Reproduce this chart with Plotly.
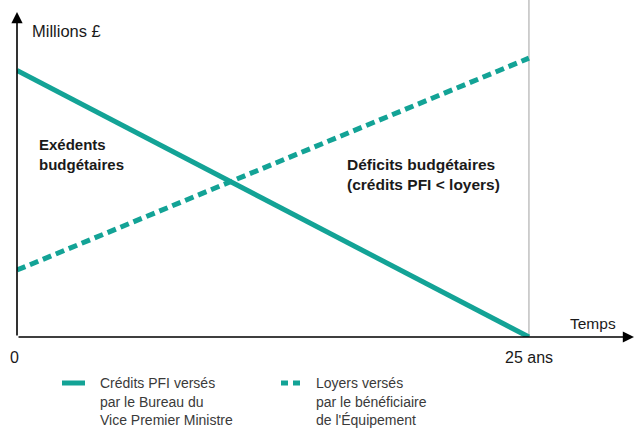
import plotly.graph_objects as go

# Data (arbitrary units)
years = [0, 25]
credits_pfi = [82, 0]      # Crédits PFI versés par le Bureau du Vice Premier Ministre
loyers = [20.6, 85.8]      # Loyers versés par le bénéficiaire de l'Équipement

TEAL = "#13a396"
FONT = "Liberation Sans"

fig = go.Figure()
fig.add_trace(go.Scatter(x=years, y=credits_pfi, mode="lines",
                         line=dict(color=TEAL, width=5), showlegend=False,
                         hoverinfo="skip"))
fig.add_trace(go.Scatter(x=years, y=loyers, mode="lines",
                         line=dict(color=TEAL, width=5, dash="9px,5px"),
                         showlegend=False, hoverinfo="skip"))

XMAX = 30.13
fig.update_xaxes(range=[0, XMAX], visible=False, fixedrange=True)
fig.update_yaxes(range=[0, 100], visible=False, fixedrange=True)

# vertical gray line at 25 ans
fig.add_shape(type="line", xref="x", yref="paper", x0=25, x1=25, y0=0, y1=1.037,
              line=dict(color="#b0b0b0", width=1.2), layer="below")

# axes with arrows
fig.add_annotation(x=XMAX, y=0, ax=0, ay=0, xref="x", yref="y", axref="x", ayref="y",
                   showarrow=True, arrowhead=2, arrowsize=1.4, arrowwidth=1.6,
                   arrowcolor="black", text="")
fig.add_annotation(x=0, y=100, ax=0, ay=0, xref="x", yref="y", axref="x", ayref="y",
                   showarrow=True, arrowhead=2, arrowsize=1.4, arrowwidth=1.6,
                   arrowcolor="black", text="")

def txt(x, y, s, size=15, bold=False, xanchor="left", color="#1a1a1a", xref="paper", yref="paper"):
    fig.add_annotation(x=x, y=y, xref=xref, yref=yref, text=(f"<b>{s}</b>" if bold else s),
                       showarrow=False, xanchor=xanchor, yanchor="middle", align="left",
                       font=dict(family=FONT, size=size, color=color))

W, H = 637, 432
L, T, B, R = 17, 12, 95, 3
pw, ph = W - L - R, H - T - B
def px(x): return (x - L) / pw
def py(y): return (H - B - y) / ph

txt(px(30), py(31), "Millions £", size=16.5)
txt(px(14), py(357), "0", size=16, xanchor="center")
txt(25, py(357), "25 ans", size=16, xanchor="center", xref="x")
txt(px(568), py(323), "Temps", size=15.5)
txt(px(37), py(154), "Exédents<br>budgétaires", size=15, bold=True)
txt(px(345), py(174), "Déficits budgétaires<br>(crédits PFI &lt; loyers)", size=15.5, bold=True)

# legend (manual)
fig.add_shape(type="line", xref="paper", yref="paper", x0=px(62), x1=px(85), y0=py(383), y1=py(383),
              line=dict(color=TEAL, width=5))
fig.add_shape(type="line", xref="paper", yref="paper", x0=px(281), x1=px(300), y0=py(383), y1=py(383),
              line=dict(color=TEAL, width=5, dash="7px,5px"))
LEG = "#3a3a3a"
for i, s in enumerate(["Crédits PFI versés", "par le Bureau du", "Vice Premier Ministre"]):
    txt(px(98), py(383 + 18.5 * i), s, size=14, color=LEG)
for i, s in enumerate(["Loyers versés", "par le bénéficiaire", "de l'Équipement"]):
    txt(px(314), py(383 + 18.5 * i), s, size=14, color=LEG)

fig.update_layout(width=W, height=H, margin=dict(l=L, r=R, t=T, b=B),
                  plot_bgcolor="white", paper_bgcolor="white", showlegend=False)

fig.write_html("out.html", config={"displayModeBar": False, "staticPlot": True},
               post_script="document.body.style.margin='0px';document.body.style.overflow='hidden';")
